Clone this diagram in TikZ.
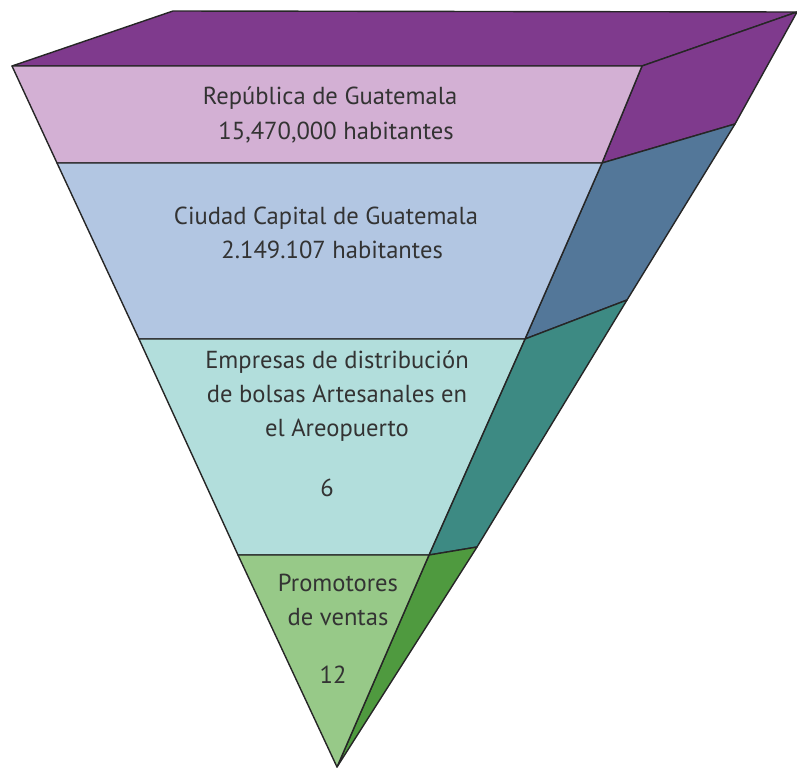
\documentclass[tikz,border=0pt]{standalone}
\usepackage{fontspec}
\setmainfont{PT Sans}
\usetikzlibrary{positioning, calc}
\definecolor{topviolet}{HTML}{7F3A8D}
\definecolor{frontviolet}{HTML}{D3B0D4}
\definecolor{frontblue}{HTML}{B2C6E2}
\definecolor{sideblue}{HTML}{537799}
\definecolor{frontteal}{HTML}{B2DEDC}
\definecolor{sideteal}{HTML}{3D8A83}
\definecolor{frontgreen}{HTML}{97C988}
\definecolor{sidegreen}{HTML}{4F9A3F}
\tikzset{
        my-face/.style={
            draw=black!85, line width=0.8pt, line join=round
        },
        my-label/.style={
            align=center, font=\fontsize{14}{19.5}\selectfont, text=black!80, inner sep=0pt
        },
}

\begin{document}
\begin{tikzpicture}[x=0.02cm, y=-0.02cm]

        \useasboundingbox (0,0) rectangle (797,771);

        %CORNERS (pixel grid, front face then back edge)
        \coordinate (apex) at (337,767);
        \coordinate (FL0)  at (12,66);
        \coordinate (FR0)  at (642,66);
        \coordinate (FL1)  at (57,163);
        \coordinate (FR1)  at (602,163);
        \coordinate (FL2)  at (139,339);
        \coordinate (FR2)  at (525,339);
        \coordinate (FL3)  at (238,555);
        \coordinate (FR3)  at (429,555);
        \coordinate (BL0)  at (173,11);
        \coordinate (BR0)  at (797,12);
        \coordinate (S1)   at (735,124);
        \coordinate (S2)   at (627,300);
        \coordinate (S3)   at (477,547);

        % TOP FACE
        \fill [my-face, fill=topviolet] (FL0) -- (BL0) -- (BR0) -- (FR0) -- cycle;

        % SIDE FACES
        \fill [my-face, fill=topviolet]  (FR0) -- (BR0) -- (S1) -- (FR1) -- cycle;
        \fill [my-face, fill=sideblue]   (FR1) -- (S1) -- (S2) -- (FR2) -- cycle;
        \fill [my-face, fill=sideteal]   (FR2) -- (S2) -- (S3) -- (FR3) -- cycle;
        \fill [my-face, fill=sidegreen]  (FR3) -- (S3) -- (apex) -- cycle;

        % FRONT FACES
        \fill [my-face, fill=frontviolet] (FL0) -- (FR0) -- (FR1) -- (FL1) -- cycle;
        \fill [my-face, fill=frontblue]   (FL1) -- (FR1) -- (FR2) -- (FL2) -- cycle;
        \fill [my-face, fill=frontteal]   (FL2) -- (FR2) -- (FR3) -- (FL3) -- cycle;
        \fill [my-face, fill=frontgreen]  (FL3) -- (FR3) -- (apex) -- cycle;

        % LABELS
        \node [my-label] (pais)      at (330,115) {República de Guatemala\\ \hspace*{0.5em}15,470,000 habitantes};
        \node [my-label] (capital)   at (326,233) {Ciudad Capital de Guatemala\\ \hspace*{0.5em}2.149.107 habitantes};
        \node [my-label] (empresas)  at (337,396) {Empresas de distribución\\ de bolsas Artesanales en\\ el Areopuerto};
        \node [my-label] (nempresas) at (327,488) {6};
        \node [my-label] (promotor)  at (338,600) {Promotores\\ de ventas};
        \node [my-label] (npromotor) at (333,675) {12};

\end{tikzpicture}
\end{document}
